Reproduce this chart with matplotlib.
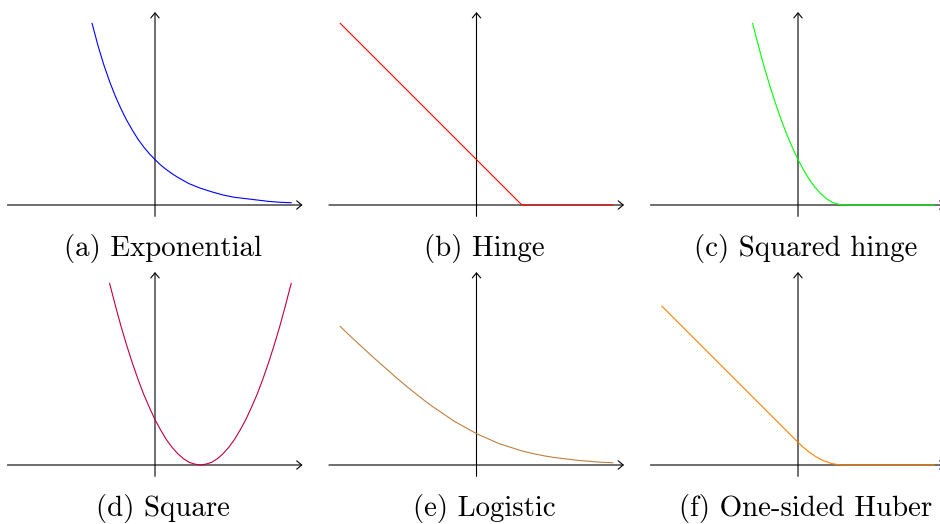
import matplotlib
matplotlib.use("Agg")
import matplotlib.pyplot as plt

# loss curves, sampled along the margin axis
exp_x = [-1.386, -1.25, -1.125, -1.0, -0.875, -0.75, -0.625, -0.5, -0.375, -0.25,
         -0.125, 0.0, 0.125, 0.25, 0.375, 0.5, 0.625, 0.75, 0.875, 1.0,
         1.25, 1.5, 1.75, 2.0, 2.25, 2.5, 2.75, 3.0]
exp_y = [4.00, 3.49, 3.08, 2.72, 2.40, 2.12, 1.87, 1.65, 1.45, 1.28,
         1.13, 1.00, 0.88, 0.78, 0.69, 0.61, 0.54, 0.47, 0.42, 0.37,
         0.29, 0.22, 0.17, 0.14, 0.11, 0.08, 0.06, 0.05]

hinge_x = [-3.0, 1.0, 3.0]
hinge_y = [4.0, 0.0, 0.0]

sqhinge_x = [-1.0, -0.875, -0.75, -0.625, -0.5, -0.375, -0.25, -0.125, 0.0,
             0.125, 0.25, 0.375, 0.5, 0.625, 0.75, 0.875, 1.0, 3.0]
sqhinge_y = [4.00, 3.52, 3.06, 2.64, 2.25, 1.89, 1.56, 1.27, 1.00,
             0.77, 0.56, 0.39, 0.25, 0.14, 0.06, 0.02, 0.0, 0.0]

square_x = [-1.0, -0.875, -0.75, -0.625, -0.5, -0.375, -0.25, -0.125, 0.0,
            0.125, 0.25, 0.375, 0.5, 0.625, 0.75, 0.875, 1.0,
            1.125, 1.25, 1.375, 1.5, 1.625, 1.75, 1.875, 2.0,
            2.125, 2.25, 2.375, 2.5, 2.625, 2.75, 2.875, 3.0]
square_y = [4.00, 3.52, 3.06, 2.64, 2.25, 1.89, 1.56, 1.27, 1.00,
            0.77, 0.56, 0.39, 0.25, 0.14, 0.06, 0.02, 0.0,
            0.02, 0.06, 0.14, 0.25, 0.39, 0.56, 0.77, 1.00,
            1.27, 1.56, 1.89, 2.25, 2.64, 3.06, 3.52, 4.00]

logit_x = [-3.0, -2.75, -2.5, -2.25, -2.0, -1.75, -1.5, -1.25, -1.0, -0.75,
           -0.5, -0.25, 0.0, 0.25, 0.5, 0.75, 1.0, 1.25, 1.5, 1.75,
           2.0, 2.25, 2.5, 2.75, 3.0]
logit_y = [3.05, 2.81, 2.58, 2.35, 2.13, 1.91, 1.70, 1.50, 1.31, 1.14,
           0.97, 0.83, 0.69, 0.58, 0.47, 0.39, 0.31, 0.25, 0.20, 0.16,
           0.13, 0.10, 0.08, 0.06, 0.05]

huber_x = [-3.0, 0.0, 0.125, 0.25, 0.375, 0.5, 0.625, 0.75, 0.875, 1.0, 3.0]
huber_y = [3.5, 0.5, 0.383, 0.281, 0.195, 0.125, 0.070, 0.031, 0.008, 0.0, 0.0]

captions = ["(a) Exponential", "(b) Hinge", "(c) Squared hinge",
            "(d) Square", "(e) Logistic", "(f) One-sided Huber"]
curves = [(exp_x, exp_y), (hinge_x, hinge_y), (sqhinge_x, sqhinge_y),
          (square_x, square_y), (logit_x, logit_y), (huber_x, huber_y)]
colors = ["#0000ff", "#ff0000", "#00ff00", "#bf0040", "#bf8040", "#ff8000"]

W, H = 940, 524
unit = 45.4          # pixels per unit
x_orig = [155, 476.5, 798]
y_orig = [205, 465]
cap_base = [256, 516]

fig = plt.figure(figsize=(W / 100, H / 100), dpi=100)
fig.patch.set_facecolor("white")

xl, xr, yb, yt = -3.6, 3.6, -0.6, 4.6
for k in range(6):
    r, c = divmod(k, 3)
    x0, y0 = x_orig[c], y_orig[r]
    left = (x0 + xl * unit) / W
    bottom = (H - (y0 - yb * unit)) / H
    ax = fig.add_axes([left, bottom, (xr - xl) * unit / W, (yt - yb) * unit / H])
    ax.set_xlim(xl, xr)
    ax.set_ylim(yb, yt)
    ax.axis("off")

    arrow = dict(arrowstyle="->,head_length=0.36,head_width=0.3", lw=0.8,
                 color="black", shrinkA=0, shrinkB=0, mutation_scale=10)
    ax.annotate("", xy=(3.25, 0), xytext=(-3.25, 0), arrowprops=arrow,
                annotation_clip=False)
    ax.annotate("", xy=(0, 4.25), xytext=(0, -0.25), arrowprops=arrow,
                annotation_clip=False)

    xs, ys = curves[k]
    ax.plot(xs, ys, color=colors[k], lw=0.8, zorder=5, clip_on=False,
            solid_joinstyle="round")

    fig.text((x0 + 7.5) / W, (H - cap_base[r]) / H, captions[k],
             ha="center", va="baseline", family="cmr10", fontsize=20.8)

fig.savefig("out.png", dpi=100, facecolor="white")
